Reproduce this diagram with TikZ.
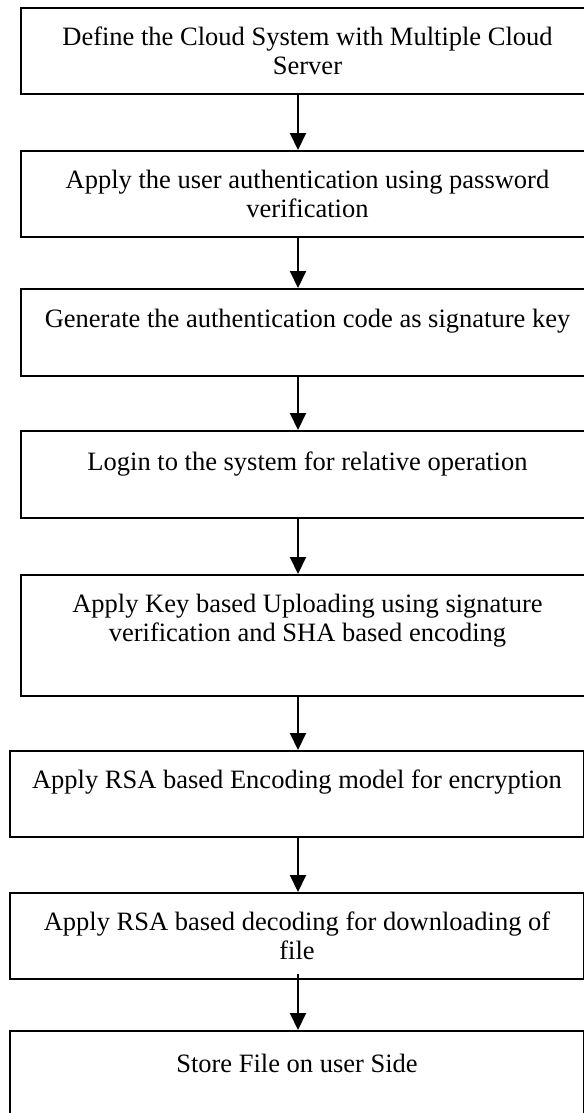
\documentclass[tikz,border=0pt]{standalone}
\usepackage{fontspec}
\setmainfont{Liberation Serif}
\usetikzlibrary{arrows.meta}
\begin{document}
\begin{tikzpicture}[x=1bp,y=-1bp,
  stepbox/.style={draw=black, line width=2bp, rectangle, inner sep=0pt, anchor=north west},
  steptext/.style={anchor=north, align=center, inner sep=0pt,
    font=\fontsize{26.5bp}{29bp}\selectfont},
  flow/.style={-{Triangle[width=16bp,length=17bp]}, line width=2bp}]
\useasboundingbox (0,0) rectangle (584,1113);
\fill[white] (0,0) rectangle (584,1113);
\clip (0,0) rectangle (584,1113);

% process boxes
\node[stepbox, minimum width=573bp, minimum height=86bp]  (b1) at (20,7)    {};
\node[stepbox, minimum width=573bp, minimum height=86bp]  (b2) at (20,150)  {};
\node[stepbox, minimum width=573bp, minimum height=87bp]  (b3) at (20,288)  {};
\node[stepbox, minimum width=573bp, minimum height=87bp]  (b4) at (20,430)  {};
\node[stepbox, minimum width=573bp, minimum height=121bp] (b5) at (20,574)  {};
\node[stepbox, minimum width=574bp, minimum height=86bp]  (b6) at (9,750)   {};
\node[stepbox, minimum width=574bp, minimum height=86bp]  (b7) at (9,892)   {};
\node[stepbox, minimum width=574bp, minimum height=110bp] (b8) at (9,1030)  {};

% step labels, set near the top of each box
\node[steptext] (t1) at ([yshift=-20bp]b1.north) {Define the Cloud System with Multiple Cloud\\Server};
\node[steptext] (t2) at ([yshift=-20bp]b2.north) {Apply the user authentication using password\\verification};
\node[steptext] (t3) at ([yshift=-21bp]b3.north) {Generate the authentication code as signature key};
\node[steptext] (t4) at ([yshift=-22bp]b4.north) {Login to the system for relative operation};
\node[steptext] (t5) at ([yshift=-20bp]b5.north) {Apply Key based Uploading using signature\\verification and SHA based encoding};
\node[steptext] (t6) at ([yshift=-20bp]b6.north) {Apply RSA based Encoding model for encryption};
\node[steptext] (t7) at ([yshift=-20bp]b7.north) {Apply RSA based decoding for downloading of\\file};
\node[steptext] (t8) at ([yshift=-24bp]b8.north) {Store File on user Side};

% vertical flow line
\coordinate (ax) at (298,0);
\foreach \a/\b in {b1/b2,b2/b3,b3/b4,b4/b5,b5/b6,b6/b7}
  \draw[flow] (\a.south -| ax) -- (\b.north -| ax);
\draw[flow] ([yshift=6bp]b7.south -| ax) -- (b8.north -| ax);
\end{tikzpicture}
\end{document}
